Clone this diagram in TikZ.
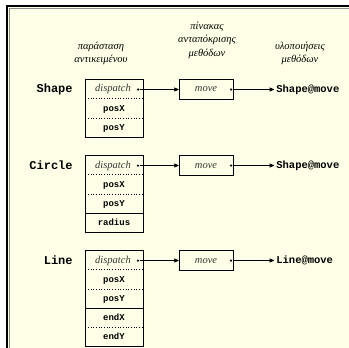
\documentclass[tikz,border=0pt]{standalone}
\usepackage{fontspec}
\setmainfont{Liberation Serif}
\setmonofont{Liberation Mono}
\usepackage{xcolor}
\usetikzlibrary{arrows, positioning}
\definecolor{paper}{RGB}{255,255,232}
\definecolor{txtgray}{RGB}{55,55,55}

\begin{document}
\begin{tikzpicture}[x=1pt, y=-1pt,
				>=stealth',
				line width=0.7pt,
				field/.style={minimum width=57pt, minimum height=19pt, inner sep=0pt, text height=6.5pt, text depth=1.5pt, font=\ttfamily\bfseries\fontsize{9}{9}\selectfont},
				slot/.style={field, font=\itshape\fontsize{10.5}{10.5}\selectfont, text=txtgray},
				vtable/.style={draw, minimum width=54pt, minimum height=20pt, inner sep=0pt, text height=6.5pt, text depth=1.5pt, font=\itshape\fontsize{10.5}{10.5}\selectfont, text=txtgray},
				cls/.style={anchor=east, inner sep=0pt, font=\ttfamily\bfseries\fontsize{12}{12}\selectfont},
				impl/.style={anchor=west, inner sep=0pt, inner xsep=2pt, font=\ttfamily\bfseries\fontsize{10.5}{10.5}\selectfont},
				head/.style={align=center, inner sep=0pt, font=\itshape\fontsize{10.5}{13.5}\selectfont},
				dotmark/.style={circle, fill, inner sep=0pt, minimum size=2.5pt}]
				\useasboundingbox (0,0) rectangle (349,348);
				\fill[white] (0,0) rectangle (349,348);
				\fill[paper] (7,6) rectangle (349,348);
				\draw[black!45, line width=1pt] (9,348) -- (9,8) -- (349,8);
				\draw[line width=1.6pt] (7,348) -- (7,6) -- (349,6);
				% headings
				\node[head] (h1) at (101,53.5) {παράσταση\\αντικειμένου};
				\node[head] (h2) at (207,40) {πίνακας\\ανταπόκρισης\\μεθόδων};
				\node[head] (h3) at (300,53.5) {υλοποιήσεις\\μεθόδων};
				% Shape
				\node[cls] (shape) at (73,89.5) {Shape};
				\node[slot] (s1) at (113,89.5) {dispatch};
				\node[field] (s2) at (114,108.5) {posX};
				\node[field] (s3) at (114,127.5) {posY};
				\draw (s2.north west |- s1.north) rectangle (s3.south east);
				\draw[dotted] (s2.north west) -- (s2.north east);
				\draw[dotted] (s2.south west) -- (s2.south east);
				\node[vtable] (sv) at (206,89.5) {move};
				\node[dotmark] (sd) at (138,89.5) {};
				\node[dotmark] (svd) at (231,89.5) {};
				\node[impl] (simpl) at (274,89.5) {Shape@move};
				\draw[->, black] (sd) -- (sv);
				\draw[->, black] (svd) -- (simpl);
				% Circle
				\node[cls] (circle) at (73,165.5) {Circle};
				\node[slot] (c1) at (113,165.5) {dispatch};
				\node[field] (c2) at (114,184.5) {posX};
				\node[field] (c3) at (114,203.5) {posY};
				\node[field] (c4) at (114,222.5) {radius};
				\draw (c2.north west |- c1.north) rectangle (c4.south east);
				\draw[dotted] (c2.north west) -- (c2.north east);
				\draw[dotted] (c2.south west) -- (c2.south east);
				\draw (c3.south west) -- (c3.south east);
				\node[vtable] (cv) at (206,165.5) {move};
				\node[dotmark] (cd) at (138,165.5) {};
				\node[dotmark] (cvd) at (231,165.5) {};
				\node[impl] (cimpl) at (274,165.5) {Shape@move};
				\draw[->, black] (cd) -- (cv);
				\draw[->, black] (cvd) -- (cimpl);
				% Line
				\node[cls] (line) at (73,260.5) {Line};
				\node[slot] (l1) at (113,260.5) {dispatch};
				\node[field] (l2) at (114,279.5) {posX};
				\node[field] (l3) at (114,298.5) {posY};
				\node[field] (l4) at (114,317.5) {endX};
				\node[field] (l5) at (114,336.5) {endY};
				\draw (l2.north west |- l1.north) rectangle (l5.south east);
				\draw[dotted] (l2.north west) -- (l2.north east);
				\draw[dotted] (l2.south west) -- (l2.south east);
				\draw (l3.south west) -- (l3.south east);
				\draw[dotted] (l4.south west) -- (l4.south east);
				\node[vtable] (lv) at (206,260.5) {move};
				\node[dotmark] (ld) at (138,260.5) {};
				\node[dotmark] (lvd) at (231,260.5) {};
				\node[impl] (limpl) at (274,260.5) {Line@move};
				\draw[->, black] (ld) -- (lv);
				\draw[->, black] (lvd) -- (limpl);
			\end{tikzpicture}
\end{document}
